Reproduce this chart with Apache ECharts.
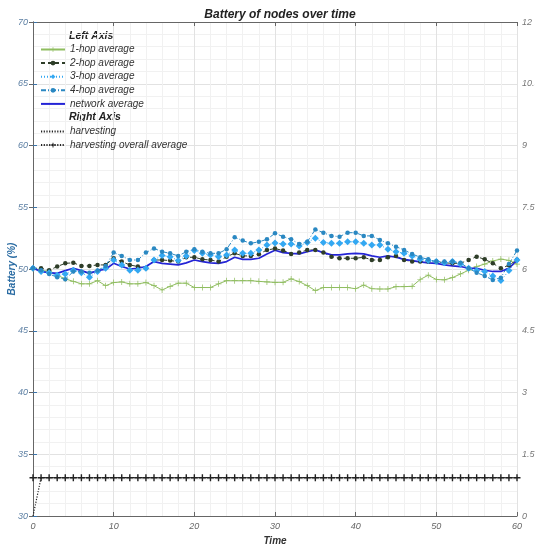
<!DOCTYPE html>
<html>
<head>
<meta charset="utf-8">
<script src="https://cdn.jsdelivr.net/npm/echarts@6/dist/echarts.min.js"></script>
<style>html,body{margin:0;padding:0;background:#fff}#c{width:535px;height:546px}</style>
</head>
<body>
<div id="c"></div>
<script>
var times = [0,1,2,3,4,5,6,7,8,9,10,11,12,13,14,15,16,17,18,19,20,21,22,23,24,25,26,27,28,29,30,31,32,33,34,35,36,37,38,39,40,41,42,43,44,45,46,47,48,49,50,51,52,53,54,55,56,57,58,59,60];
var hop1 = [50.05,49.9,49.8,49.5,49.2,49.0,48.8,48.8,49.05,48.65,48.9,48.95,48.8,48.8,48.9,48.65,48.3,48.6,48.85,48.85,48.5,48.5,48.5,48.8,49.05,49.05,49.05,49.05,49.0,48.95,48.92,48.92,49.2,48.98,48.65,48.25,48.5,48.5,48.5,48.5,48.4,48.7,48.4,48.38,48.38,48.57,48.57,48.6,49.15,49.5,49.15,49.12,49.3,49.6,49.9,50.2,50.4,50.65,50.8,50.7,50.4];
var hop2 = [50.06,50.06,49.9,50.2,50.46,50.5,50.25,50.25,50.33,50.33,50.87,50.6,50.33,50.2,50.06,50.73,50.73,50.68,50.6,50.95,50.95,50.78,50.73,50.6,51.0,51.27,51.06,51.06,51.2,51.54,51.65,51.5,51.22,51.33,51.54,51.54,51.33,51.0,50.87,50.87,50.87,50.95,50.73,50.73,50.95,51.06,50.73,50.6,50.6,50.6,50.6,50.5,50.46,50.46,50.73,51.0,50.78,50.46,50.06,50.3,50.75];
var hop3 = [50.06,49.8,49.7,49.5,49.6,49.9,49.7,49.33,49.8,50.06,50.73,50.33,49.9,49.9,50.06,50.73,51.1,51.0,50.68,51.06,51.5,51.27,51.14,51.0,51.14,51.54,51.27,51.27,51.54,51.95,52.1,52.03,52.03,51.87,52.14,52.5,52.14,52.08,52.08,52.2,52.2,52.08,51.95,51.95,51.6,51.4,51.27,51.06,50.78,50.68,50.6,50.5,50.6,50.4,50.06,49.87,49.8,49.44,49.06,49.87,50.73];
var hop4 = [50.06,49.9,49.6,49.33,49.17,49.8,49.8,49.7,49.87,50.25,51.33,51.06,50.73,50.73,51.33,51.67,51.4,51.27,51.06,51.4,51.6,51.4,51.27,51.27,51.6,52.57,52.3,52.08,52.2,52.4,52.89,52.62,52.4,52.03,52.2,53.2,52.94,52.68,52.62,52.94,52.94,52.68,52.68,52.35,52.08,51.81,51.54,51.22,50.95,50.78,50.6,50.6,50.6,50.5,50.06,49.7,49.44,49.11,49.3,50.4,51.5];
var netAvg = [50.06,49.8,49.7,49.65,49.87,50.06,49.87,49.65,49.87,49.98,50.46,50.2,50.0,50.06,50.2,50.6,50.46,50.4,50.33,50.5,50.73,50.6,50.5,50.46,50.6,50.95,50.78,50.78,50.87,51.22,51.52,51.33,51.27,51.22,51.4,51.54,51.33,51.14,51.14,51.22,51.27,51.22,51.06,50.95,51.06,50.95,50.78,50.68,50.58,50.5,50.46,50.33,50.25,50.2,50.06,50.06,49.9,49.8,49.8,50.06,50.7];
var harvesting = [0,0.93,0.93,0.93,0.93,0.93,0.93,0.93,0.93,0.93,0.93,0.93,0.93,0.93,0.93,0.93,0.93,0.93,0.93,0.93,0.93,0.93,0.93,0.93,0.93,0.93,0.93,0.93,0.93,0.93,0.93,0.93,0.93,0.93,0.93,0.93,0.93,0.93,0.93,0.93,0.93,0.93,0.93,0.93,0.93,0.93,0.93,0.93,0.93,0.93,0.93,0.93,0.93,0.93,0.93,0.93,0.93,0.93,0.93,0.93,0.93];
var harvestAvg = [0.93,0.93,0.93,0.93,0.93,0.93,0.93,0.93,0.93,0.93,0.93,0.93,0.93,0.93,0.93,0.93,0.93,0.93,0.93,0.93,0.93,0.93,0.93,0.93,0.93,0.93,0.93,0.93,0.93,0.93,0.93,0.93,0.93,0.93,0.93,0.93,0.93,0.93,0.93,0.93,0.93,0.93,0.93,0.93,0.93,0.93,0.93,0.93,0.93,0.93,0.93,0.93,0.93,0.93,0.93,0.93,0.93,0.93,0.93,0.93,0.93];
var leftTicks = [30,35,40,45,50,55,60,65,70];
var rightTicks = [0,1.5,3,4.5,6,7.5,9,10.5,12];
var xTicks = [0,10,20,30,40,50,60];

function pairs(v){ return times.map(function(t,i){ return [t, v[i]]; }); }
var plusThin = 'path://M4.4,0H5.6V4.4H10V5.6H5.6V10H4.4V5.6H0V4.4H4.4Z';
var plusBold = 'path://M4,0H6V4H10V6H6V10H4V6H0V4H4Z';
var FONT = 'Liberation Sans';

var legendText = {fontFamily: FONT, fontSize: 10, fontStyle: 'italic', color: '#333', lineHeight: 10};

var chart = echarts.init(document.getElementById('c'));
chart.setOption({
  animation: false,
  backgroundColor: '#fff',
  title: {
    text: 'Battery of nodes over time', left: 275, top: 4, textAlign: 'center',
    textStyle: {fontFamily: FONT, fontSize: 12, fontWeight: 'bold', fontStyle: 'italic', color: '#222'}
  },
  grid: {left: 33, right: 18, top: 22, bottom: 30, containLabel: false, outerBoundsMode: 'none'},
  graphic: [
    {type: 'text', left: 69, top: 30.5, style: {text: 'Left Axis', font: 'italic bold 10.5px "Liberation Sans"', fill: '#222'}},
    {type: 'text', left: 69, top: 112, style: {text: 'Right Axis', font: 'italic bold 10.5px "Liberation Sans"', fill: '#222'}},
    {type: 'text', x: 12, y: 269, rotation: Math.PI / 2,
     style: {text: 'Battery (%)', font: 'italic bold 10px "Liberation Sans"', fill: '#2b6ca3', align: 'center', verticalAlign: 'middle'}}
  ],
  legend: [
    {data: ['1-hop average','2-hop average','3-hop average','4-hop average',
            {name: 'network average', itemStyle: {opacity: 0}}],
     orient: 'vertical', left: 40, top: 44.5, padding: 0, itemWidth: 24, itemHeight: 6, itemGap: 3.6,
     textStyle: legendText},
    {data: [{name: 'harvesting', itemStyle: {opacity: 0}}, 'harvesting overall average'],
     orient: 'vertical', left: 40, top: 126.5, padding: 0, itemWidth: 24, itemHeight: 6, itemGap: 3.6,
     textStyle: legendText}
  ],
  xAxis: [{
    type: 'value', min: xTicks[0], max: xTicks[xTicks.length-1], interval: 10,
    name: 'Time', nameLocation: 'middle', nameGap: 17,
    nameTextStyle: {fontFamily: FONT, fontSize: 10, fontWeight: 'bold', fontStyle: 'italic', color: '#333'},
    axisLine: {lineStyle: {color: '#666'}},
    axisTick: {inside: true, length: 4, lineStyle: {color: '#666'}},
    axisLabel: {fontFamily: FONT, fontSize: 9, fontStyle: 'italic', color: '#666', margin: 6},
    splitLine: {show: true, lineStyle: {color: '#e2e2e2'}},
    minorTick: {show: false, splitNumber: 5},
    minorSplitLine: {show: true, lineStyle: {color: '#f1f1f1'}}
  }, {
    type: 'value', position: 'top', min: 0, max: 60, interval: 10,
    axisLine: {show: true, lineStyle: {color: '#666'}},
    axisTick: {show: true, inside: true, length: 4, lineStyle: {color: '#666'}},
    axisLabel: {show: false}, splitLine: {show: false}
  }],
  yAxis: [{
    type: 'value', position: 'left', min: leftTicks[0], max: leftTicks[leftTicks.length-1], interval: 5,
    axisLine: {show: true, lineStyle: {color: '#3a74aa'}},
    axisTick: {show: true, inside: true, length: 4, lineStyle: {color: '#3a74aa'}},
    axisLabel: {fontFamily: FONT, fontSize: 9, fontStyle: 'italic', color: '#5c7fa3', margin: 5},
    splitLine: {show: true, lineStyle: {color: '#e2e2e2'}},
    minorTick: {show: false, splitNumber: 5},
    minorSplitLine: {show: true, lineStyle: {color: '#f1f1f1'}}
  }, {
    type: 'value', position: 'right', min: rightTicks[0], max: rightTicks[rightTicks.length-1], interval: 1.5,
    axisLine: {show: true, lineStyle: {color: '#666'}},
    axisTick: {show: true, inside: true, length: 4, lineStyle: {color: '#666'}},
    axisLabel: {fontFamily: FONT, fontSize: 9, fontStyle: 'italic', color: '#777', margin: 5},
    splitLine: {show: false}
  }],
  series: [
    {name: '1-hop average', type: 'line', yAxisIndex: 0, data: pairs(hop1),
     symbol: plusThin, symbolSize: 6, color: '#8fbd5f',
     lineStyle: {width: 1, color: '#8fbd5f'}, itemStyle: {color: '#8fbd5f'}},
    {name: '2-hop average', type: 'line', yAxisIndex: 0, data: pairs(hop2),
     symbol: 'circle', symbolSize: 4.5, color: '#2e3d28',
     lineStyle: {width: 1, type: [4, 3], color: '#2e3d28'}, itemStyle: {color: '#2e3d28'}},
    {name: '3-hop average', type: 'line', yAxisIndex: 0, data: pairs(hop3),
     symbol: 'diamond', symbolSize: 7, color: '#33a8f2',
     lineStyle: {width: 1, type: [1, 2], color: '#33a8f2'}, itemStyle: {color: '#33a8f2'}},
    {name: '4-hop average', type: 'line', yAxisIndex: 0, data: pairs(hop4),
     symbol: 'circle', symbolSize: 4.5, color: '#2a88c2',
     lineStyle: {width: 1, type: [5, 2, 1, 2], color: '#2a88c2'}, itemStyle: {color: '#2a88c2'}},
    {name: 'network average', type: 'line', yAxisIndex: 0, data: pairs(netAvg),
     symbol: 'none', color: '#2424d6',
     lineStyle: {width: 1.7, color: '#2424d6'}},
    {name: 'harvesting', type: 'line', yAxisIndex: 1, data: pairs(harvesting),
     symbol: 'none', color: '#222',
     lineStyle: {width: 1.2, type: [1.2, 1.5], color: '#222'}},
    {name: 'harvesting overall average', type: 'line', yAxisIndex: 1, data: pairs(harvestAvg),
     symbol: plusBold, symbolSize: 7, color: '#222',
     lineStyle: {width: 1.2, type: [1.2, 1.5], color: '#222'}, itemStyle: {color: '#222'}}
  ]
});
</script>
</body>
</html>
